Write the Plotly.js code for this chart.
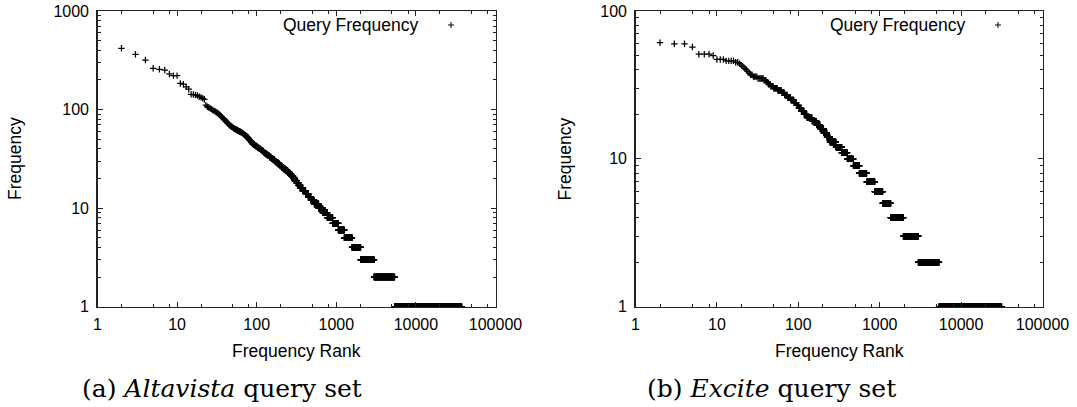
<!DOCTYPE html>
<html>
<head>
<meta charset="utf-8">
<script src="https://cdn.plot.ly/plotly-3.0.1.min.js"></script>
<style>
html,body{margin:0;padding:0;background:#fff;}
#chart{width:1077px;height:407px;}
</style>
</head>
<body>
<div id="chart"></div>
<script>
// ---------------- DATA ----------------
// Rank-frequency runs: frequency altaFreq[i] holds for ranks altaRankStart[i] .. (next start - 1)
const altaRankStart = [2,3,4,5,6,7,8,9,10,11,12,13,14,15,16,17,18,19,20,21,22,23,24,25,26,27,28,29,30,31,32,33,34,35,36,37,38,39,40,41,42,43,44,45,46,47,48,50,51,52,54,56,58,60,63,65,67,69,71,73,75,77,79,80,81,83,85,87,89,91,95,99,103,107,112,117,122,127,132,138,145,152,160,168,176,186,195,206,218,230,246,260,273,288,300,318,335,352,380,412,445,480,530,600,675,770,900,1060,1260,1575,2020,2980,5400];
const altaFreq      = [418,364,318,262,256,252,230,221,221,184,181,170,161,143,142,141,139,135,133,130,127,111,107,105,103,101,99,97,96,94,93,91,89,87,85,83,81,80,78,76,75,73,72,70,69,68,67,66,65,64,63,62,61,60,59,58,57,56,55,54,53,52,51,50,49,48,47,46,45,44,43,42,41,40,39,38,37,36,35,34,33,32,31,30,29,28,27,26,25,24,23,22,21,20,19,18,17,16,15,14,13,12,11,10,9,8,7,6,5,4,3,2,1];
const altaLastRank  = 37600;

const exciteRankStart = [2,3,4,5,6,7,8,9,10,11,12,13,14,15,16,17,18,19,20,21,22,23,24,25,26,28,32,38,41,43,46,50,56,63,68,74,81,89,95,102,109,118,128,148,168,185,205,225,245,290,342,400,474,562,692,870,1088,1365,1950,2980,5350];
const exciteFreq      = [61,60,60,57,51,51,51,50,47,47,47,46,46,46,46,45,45,44,43,42,41,40,39,38,37,36,35,34,33,32,31,30,29,28,27,26,25,24,23,22,21,20,19,18,17,16,15,14,13,12,11,10,9,8,7,6,5,4,3,2,1];
const exciteLastRank  = 31500;

const xTickVals = [1,10,100,1000,10000,100000];
const xTickText = ["1","10","100","1000","10000","100000"];
const yTickValsA = [1,10,100,1000];
const yTickTextA = ["1","10","100","1000"];
const yTickValsB = [1,10,100];
const yTickTextB = ["1","10","100"];

const seriesName = "Query Frequency";
const xTitle = "Frequency Rank";
const yTitle = "Frequency";
const captionA = "(a) <i>Altavista</i> query set";
const captionB = "(b) <i>Excite</i> query set";

// ---------------- BUILD ----------------
function expandRuns(starts, freqs, lastRank){
  const xs = [], ys = [];
  for (let i = 0; i < starts.length; i++){
    const a = starts[i];
    const b = (i + 1 < starts.length) ? starts[i+1] - 1 : lastRank;
    let r = a, last = -1;
    while (r <= b){
      xs.push(r); ys.push(freqs[i]); last = r;
      r = Math.max(r + 1, Math.round(r * 1.004));
    }
    if (last !== b){ xs.push(b); ys.push(freqs[i]); }
  }
  return {xs, ys};
}

const A = expandRuns(altaRankStart, altaFreq, altaLastRank);
const B = expandRuns(exciteRankStart, exciteFreq, exciteLastRank);

const W = 1077, H = 407;
const px = x => x / W;
const py = y => 1 - y / H;

const axisColor = '#222';
const tickFont = {family: 'Liberation Sans, Arial, sans-serif', size: 16, color: '#000'};
const labelFont = {family: 'Liberation Sans, Arial, sans-serif', size: 17.5, color: '#000'};
const capFont = {family: 'DejaVu Serif, serif', size: 25, color: '#000'};

function minorVals(lo, hi, digits){
  const v = [];
  for (let e = lo; e < hi; e++) for (const d of digits) v.push(d * Math.pow(10, e));
  return v;
}

const marker = {symbol: 'cross-thin', size: 4.6, color: '#000', line: {width: 1.25, color: '#000'}};

const traces = [
  {x: A.xs, y: A.ys, type: 'scatter', mode: 'markers', marker: marker, xaxis: 'x', yaxis: 'y', name: seriesName, hoverinfo: 'skip'},
  {x: B.xs, y: B.ys, type: 'scatter', mode: 'markers', marker: marker, xaxis: 'x2', yaxis: 'y2', name: seriesName, hoverinfo: 'skip'}
];

function xAxis(domain, anchor){
  return {
    type: 'log', range: [0, 5], domain: domain, anchor: anchor,
    showline: true, linecolor: axisColor, linewidth: 1.3, mirror: 'allticks',
    ticks: 'inside', ticklen: 5, tickwidth: 1, tickcolor: axisColor,
    tickmode: 'array', tickvals: xTickVals, ticktext: xTickText, tickfont: tickFont,
    ticklabelstandoff: 3,
    showgrid: false, zeroline: false, fixedrange: true,
    minor: {tickmode: 'array', tickvals: minorVals(0, 5, [2,5,8]), ticks: 'inside', ticklen: 3, tickcolor: axisColor, showgrid: false}
  };
}
function yAxis(domain, anchor, top, vals, text){
  return {
    type: 'log', range: [0, top], domain: domain, anchor: anchor,
    showline: true, linecolor: axisColor, linewidth: 1.3, mirror: 'allticks',
    ticks: 'inside', ticklen: 5, tickwidth: 1, tickcolor: axisColor,
    tickmode: 'array', tickvals: vals, ticktext: text, tickfont: tickFont,
    ticklabelstandoff: 4,
    showgrid: false, zeroline: false, fixedrange: true,
    minor: {tickmode: 'array', tickvals: minorVals(0, top, [2,3,4,5,6,7,8,9]), ticks: 'inside', ticklen: 3, tickcolor: axisColor, showgrid: false}
  };
}

const yDom = [py(306.7), py(11)];
const layout = {
  width: W, height: H,
  margin: {l: 0, r: 0, t: 0, b: 0},
  paper_bgcolor: '#fff', plot_bgcolor: '#fff',
  showlegend: false,
  xaxis: xAxis([px(97.5), px(495.5)], 'y'),
  yaxis: yAxis(yDom, 'x', 3, yTickValsA, yTickTextA),
  xaxis2: xAxis([px(635.5), px(1042.5)], 'y2'),
  yaxis2: yAxis(yDom, 'x2', 2, yTickValsB, yTickTextB),
  annotations: [
    {text: yTitle, x: px(15), y: py(159), xref: 'paper', yref: 'paper', textangle: -90, showarrow: false, xanchor: 'center', yanchor: 'middle', font: labelFont},
    {text: yTitle, x: px(564.5), y: py(159), xref: 'paper', yref: 'paper', textangle: -90, showarrow: false, xanchor: 'center', yanchor: 'middle', font: labelFont},
    {text: xTitle, x: px(296.5), y: py(351), xref: 'paper', yref: 'paper', showarrow: false, xanchor: 'center', yanchor: 'middle', font: labelFont},
    {text: xTitle, x: px(839), y: py(351), xref: 'paper', yref: 'paper', showarrow: false, xanchor: 'center', yanchor: 'middle', font: labelFont},
    {text: seriesName, x: px(420), y: py(25), xref: 'paper', yref: 'paper', showarrow: false, xanchor: 'right', yanchor: 'middle', font: labelFont},
    {text: seriesName, x: px(967), y: py(25), xref: 'paper', yref: 'paper', showarrow: false, xanchor: 'right', yanchor: 'middle', font: labelFont},
    {text: captionA, x: px(222), y: py(388), xref: 'paper', yref: 'paper', showarrow: false, xanchor: 'center', yanchor: 'middle', font: capFont},
    {text: captionB, x: px(771.5), y: py(388), xref: 'paper', yref: 'paper', showarrow: false, xanchor: 'center', yanchor: 'middle', font: capFont}
  ],
  shapes: [451, 998].flatMap(cx => [
    {type: 'line', xref: 'paper', yref: 'paper', x0: px(cx - 3), x1: px(cx + 3), y0: py(25), y1: py(25), line: {color: '#000', width: 1}},
    {type: 'line', xref: 'paper', yref: 'paper', x0: px(cx), x1: px(cx), y0: py(22), y1: py(28), line: {color: '#000', width: 1}}
  ])
};

Plotly.newPlot('chart', traces, layout, {staticPlot: true, displayModeBar: false});
</script>
</body>
</html>
